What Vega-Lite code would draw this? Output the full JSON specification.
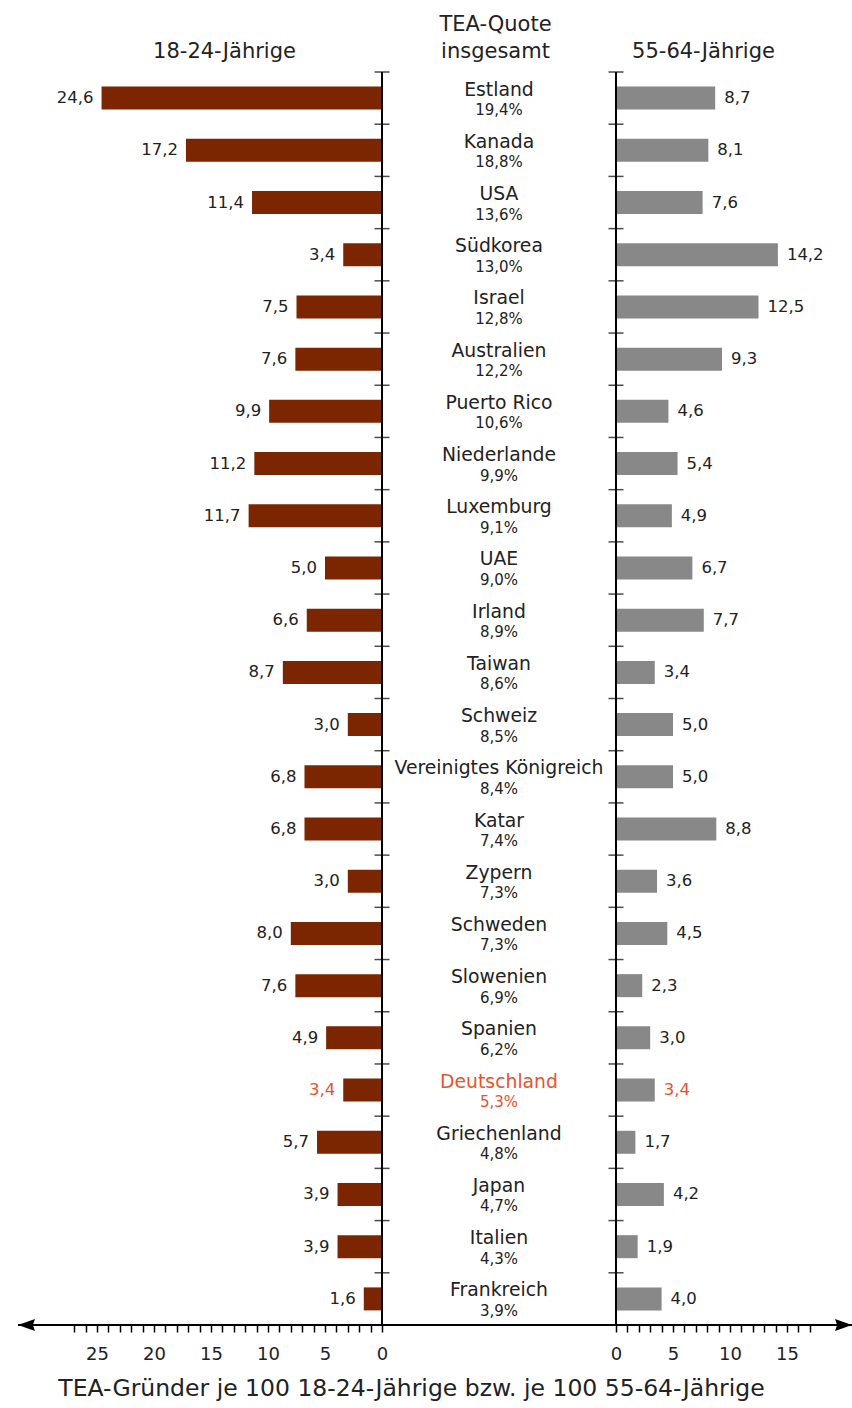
{
  "$schema": "https://vega.github.io/schema/vega-lite/v6.json",
  "width": 852,
  "height": 1253,
  "autosize": {"type": "none"},
  "padding": {"left": 0, "top": 72, "right": 0, "bottom": 83},
  "background": "white",
  "data": {"values": [
    {"country": "Estland", "tea": 19.4, "young": 24.6, "old": 8.7},
    {"country": "Kanada", "tea": 18.8, "young": 17.2, "old": 8.1},
    {"country": "USA", "tea": 13.6, "young": 11.4, "old": 7.6},
    {"country": "Südkorea", "tea": 13.0, "young": 3.4, "old": 14.2},
    {"country": "Israel", "tea": 12.8, "young": 7.5, "old": 12.5},
    {"country": "Australien", "tea": 12.2, "young": 7.6, "old": 9.3},
    {"country": "Puerto Rico", "tea": 10.6, "young": 9.9, "old": 4.6},
    {"country": "Niederlande", "tea": 9.9, "young": 11.2, "old": 5.4},
    {"country": "Luxemburg", "tea": 9.1, "young": 11.7, "old": 4.9},
    {"country": "UAE", "tea": 9.0, "young": 5.0, "old": 6.7},
    {"country": "Irland", "tea": 8.9, "young": 6.6, "old": 7.7},
    {"country": "Taiwan", "tea": 8.6, "young": 8.7, "old": 3.4},
    {"country": "Schweiz", "tea": 8.5, "young": 3.0, "old": 5.0},
    {"country": "Vereinigtes Königreich", "tea": 8.4, "young": 6.8, "old": 5.0},
    {"country": "Katar", "tea": 7.4, "young": 6.8, "old": 8.8},
    {"country": "Zypern", "tea": 7.3, "young": 3.0, "old": 3.6},
    {"country": "Schweden", "tea": 7.3, "young": 8.0, "old": 4.5},
    {"country": "Slowenien", "tea": 6.9, "young": 7.6, "old": 2.3},
    {"country": "Spanien", "tea": 6.2, "young": 4.9, "old": 3.0},
    {"country": "Deutschland", "tea": 5.3, "young": 3.4, "old": 3.4},
    {"country": "Griechenland", "tea": 4.8, "young": 5.7, "old": 1.7},
    {"country": "Japan", "tea": 4.7, "young": 3.9, "old": 4.2},
    {"country": "Italien", "tea": 4.3, "young": 3.9, "old": 1.9},
    {"country": "Frankreich", "tea": 3.9, "young": 1.6, "old": 4.0}
  ]},
  "resolve": {"scale": {"x": "independent", "y": "independent"}, "axis": {"x": "independent", "y": "independent"}},
  "layer": [
    {
      "mark": {"type": "bar", "color": "#7B2600", "height": 23},
      "encoding": {
        "y": {"field": "country", "type": "nominal", "sort": null, "axis": null},
        "x": {"field": "young", "type": "quantitative",
              "scale": {"domain": [-41.228, 33.509], "reverse": true, "nice": false, "zero": false},
              "axis": {"orient": "bottom", "values": [0,1,2,3,4,5,6,7,8,9,10,11,12,13,14,15,16,17,18,19,20,21,22,23,24,25,26,27],
                       "labelExpr": "datum.value % 5 === 0 ? datum.label : ''", "format": "d",
                       "labelOverlap": false, "labelFlush": false, "domain": false, "grid": false,
                       "tickSize": 7, "tickWidth": 1.5, "tickColor": "#000",
                       "labelFontSize": 18, "labelColor": "#222", "labelPadding": 13,
                       "title": "TEA-Gründer je 100 18-24-Jährige bzw. je 100 55-64-Jährige",
                       "titleX": 411, "titleFontSize": 23.5, "titleFontWeight": "normal", "titleColor": "#222", "titlePadding": 13}},
        "x2": {"datum": 0}
      }
    },
    {
      "mark": {"type": "bar", "color": "#888888", "height": 23},
      "encoding": {
        "y": {"field": "country", "type": "nominal", "sort": null, "axis": null},
        "x": {"field": "old", "type": "quantitative",
              "scale": {"domain": [-54.035, 20.702], "nice": false, "zero": false},
              "axis": {"orient": "bottom", "values": [0,1,2,3,4,5,6,7,8,9,10,11,12,13,14,15,16,17],
                       "labelExpr": "datum.value % 5 === 0 ? datum.label : ''", "format": "d",
                       "labelOverlap": false, "labelFlush": false, "domain": false, "grid": false,
                       "tickSize": 7, "tickWidth": 1.5, "tickColor": "#000",
                       "labelFontSize": 18, "labelColor": "#222", "labelPadding": 13, "title": null}},
        "x2": {"datum": 0}
      }
    },
    {
      "mark": {"type": "text", "align": "right", "baseline": "middle", "dx": -8, "fontSize": 16.5},
      "encoding": {
        "y": {"field": "country", "type": "nominal", "sort": null, "axis": null},
        "x": {"field": "young", "type": "quantitative",
              "scale": {"domain": [-41.228, 33.509], "reverse": true, "nice": false, "zero": false},
              "axis": {"orient": "top", "ticks": false, "labels": false, "domain": false, "grid": false,
                       "title": "18-24-Jährige", "titleX": 224, "titleY": -14.5, "titleBaseline": "alphabetic",
                       "titleFontSize": 21, "titleFontWeight": "normal", "titleColor": "#222"}},
        "text": {"field": "young", "type": "quantitative", "format": ".1f"},
        "color": {"condition": {"test": "datum.country === 'Deutschland'", "value": "#E8522E"}, "value": "#222222"}
      }
    },
    {
      "mark": {"type": "text", "align": "left", "baseline": "middle", "dx": 9, "fontSize": 16.5},
      "encoding": {
        "y": {"field": "country", "type": "nominal", "sort": null, "axis": null},
        "x": {"field": "old", "type": "quantitative",
              "scale": {"domain": [-54.035, 20.702], "nice": false, "zero": false},
              "axis": {"orient": "top", "ticks": false, "labels": false, "domain": false, "grid": false,
                       "title": "55-64-Jährige", "titleX": 703, "titleY": -14.5, "titleBaseline": "alphabetic",
                       "titleFontSize": 21, "titleFontWeight": "normal", "titleColor": "#222"}},
        "text": {"field": "old", "type": "quantitative", "format": ".1f"},
        "color": {"condition": {"test": "datum.country === 'Deutschland'", "value": "#E8522E"}, "value": "#222222"}
      }
    },
    {
      "mark": {"type": "text", "align": "center", "baseline": "alphabetic", "dy": -2.5, "fontSize": 18.8},
      "encoding": {
        "y": {"field": "country", "type": "nominal", "sort": null, "axis": null},
        "x": {"datum": -10.263,
              "scale": {"domain": [-41.228, 33.509], "reverse": true, "nice": false, "zero": false},
              "axis": {"orient": "top", "ticks": false, "labels": false, "domain": false, "grid": false,
                       "title": ["TEA-Quote", "insgesamt"], "titleX": 495, "titleY": -42, "titleBaseline": "alphabetic",
                       "titleLineHeight": 27.5, "titleFontSize": 21, "titleFontWeight": "normal", "titleColor": "#222"}},
        "text": {"field": "country", "type": "nominal"},
        "color": {"condition": {"test": "datum.country === 'Deutschland'", "value": "#E8522E"}, "value": "#222222"}
      }
    },
    {
      "mark": {"type": "text", "align": "center", "baseline": "alphabetic", "dy": 17, "fontSize": 15},
      "encoding": {
        "y": {"field": "country", "type": "nominal", "sort": null, "axis": null},
        "x": {"datum": -10.263,
              "scale": {"domain": [-41.228, 33.509], "reverse": true, "nice": false, "zero": false},
              "axis": null},
        "text": {"field": "tea", "type": "quantitative", "format": "$.1f"},
        "color": {"condition": {"test": "datum.country === 'Deutschland'", "value": "#E8522E"}, "value": "#222222"}
      }
    },
    {
      "data": {"values": [{}]},
      "mark": {"type": "rule", "color": "#000", "strokeWidth": 2},
      "encoding": {
        "x": {"datum": 0, "scale": {"domain": [-41.228, 33.509], "reverse": true, "nice": false, "zero": false}, "axis": null}
      }
    },
    {
      "data": {"values": [{}]},
      "mark": {"type": "rule", "color": "#000", "strokeWidth": 2},
      "encoding": {
        "x": {"datum": 0, "scale": {"domain": [-54.035, 20.702], "nice": false, "zero": false}, "axis": null}
      }
    },
    {
      "mark": {"type": "tick", "orient": "horizontal", "color": "#000", "size": 15, "thickness": 1.5},
      "encoding": {
        "y": {"field": "country", "type": "nominal", "sort": null, "bandPosition": 0, "axis": null},
        "x": {"datum": 0, "scale": {"domain": [-41.228, 33.509], "reverse": true, "nice": false, "zero": false}, "axis": null}
      }
    },
    {
      "mark": {"type": "tick", "orient": "horizontal", "color": "#000", "size": 15, "thickness": 1.5},
      "encoding": {
        "y": {"field": "country", "type": "nominal", "sort": null, "bandPosition": 0, "axis": null},
        "x": {"datum": 0, "scale": {"domain": [-54.035, 20.702], "nice": false, "zero": false}, "axis": null}
      }
    },
    {
      "data": {"values": [{}]},
      "layer": [
        {
          "mark": {"type": "rule", "color": "#000", "strokeWidth": 2},
          "encoding": {
            "x": {"datum": 31.93, "scale": {"domain": [-41.228, 33.509], "reverse": true, "nice": false, "zero": false}, "axis": null},
            "x2": {"datum": -41.228},
            "y": {"datum": 0, "scale": {"domain": [0, 1], "nice": false, "zero": false}, "axis": null}
          }
        },
        {
          "mark": {"type": "point", "shape": "M0,0 L2,-0.7 L1.75,0 L2,0.7 Z", "size": 289, "filled": true, "color": "#000", "opacity": 1},
          "encoding": {
            "x": {"datum": 31.93},
            "y": {"datum": 0}
          }
        },
        {
          "mark": {"type": "point", "shape": "M0,0 L-2,-0.7 L-1.75,0 L-2,0.7 Z", "size": 289, "filled": true, "color": "#000", "opacity": 1},
          "encoding": {
            "x": {"datum": -41.228},
            "y": {"datum": 0}
          }
        }
      ]
    }
  ],
  "config": {
    "font": "DejaVu Sans",
    "view": {"stroke": null},
    "scale": {"bandPaddingInner": 0, "bandPaddingOuter": 0, "barBandPaddingInner": 0},
    "locale": {"number": {"decimal": ",", "thousands": ".", "grouping": [3], "currency": ["", "%"]}}
  }
}
